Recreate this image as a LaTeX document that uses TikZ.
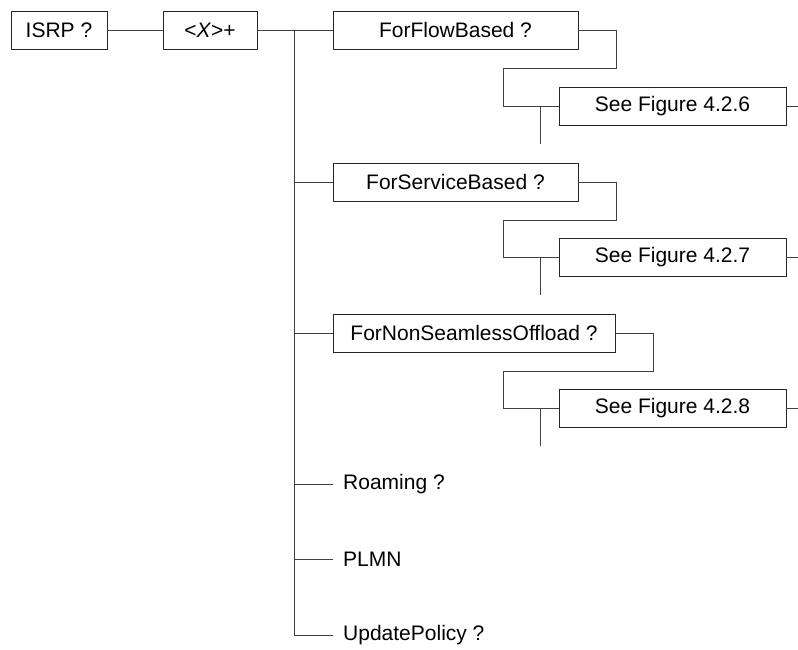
\documentclass[tikz,border=0pt]{standalone}
\usepackage{fontspec}
\setmainfont{Liberation Sans}
\usetikzlibrary{positioning}

\begin{document}
\begin{tikzpicture}[x=1pt,y=-1pt]
\tikzset{elem/.style = {shape=rectangle,draw=black!85,line width=0.9pt,minimum height=38pt,inner xsep=0pt,font=\fontsize{21}{25}\selectfont}}
\tikzset{leaf/.style = {anchor=west,inner xsep=10pt,font=\fontsize{21}{25}\selectfont}}
\tikzset{link/.style = {-,draw=black!75,line width=0.9pt}}
\useasboundingbox (0,0) rectangle (798,649);
\node[elem,minimum width=96pt]  (isrp)    at (59,30)    {ISRP ?};
\node[elem,minimum width=94pt]  (x)       at (210,30)   {<\textit{X}>+};
\node[elem,minimum width=245pt] (flow)    at (455.5,30) {ForFlowBased ?};
\node[elem,minimum width=227pt] (fig6)    at (672.5,106) {See Figure 4.2.6};
\node[elem,minimum width=245pt] (service) at (455.5,182) {ForServiceBased ?};
\node[elem,minimum width=227pt] (fig7)    at (672.5,257) {See Figure 4.2.7};
\node[elem,minimum width=282pt] (nonseam) at (474,333)  {ForNonSeamlessOffload ?};
\node[elem,minimum width=227pt] (fig8)    at (672.5,408) {See Figure 4.2.8};
\node[leaf] (roaming) at (333,484) {Roaming ?};
\node[leaf] (plmn)    at (333,559) {PLMN};
\node[leaf] (update)  at (333,635) {UpdatePolicy ?};
\coordinate (trunk) at (294,30);
\draw[link] (isrp) to (x);
\draw[link] (x) to (flow);
\draw[link] (trunk) |- (update.west);
\draw[link] (trunk |- service) to (service.west);
\draw[link] (trunk |- nonseam) to (nonseam.west);
\draw[link] (trunk |- roaming) to (roaming.west);
\draw[link] (trunk |- plmn) to (plmn.west);
\draw[link] (flow.east) -- ++(38,0) |- ++(-113,38) |- (fig6.west);
\draw[link] (service.east) -- ++(38,0) |- ++(-113,38) |- (fig7.west);
\draw[link] (nonseam.east) -- ++(38,0) |- ++(-150,38) |- (fig8.west);
\draw[link] (fig6.west) ++(-18,0) -- ++(0,38);
\draw[link] (fig7.west) ++(-18,0) -- ++(0,38);
\draw[link] (fig8.west) ++(-18,0) -- ++(0,38);
\draw[link] (fig6.east) -- ++(12,0);
\draw[link] (fig7.east) -- ++(12,0);
\draw[link] (fig8.east) -- ++(12,0);
\end{tikzpicture}
\end{document}
